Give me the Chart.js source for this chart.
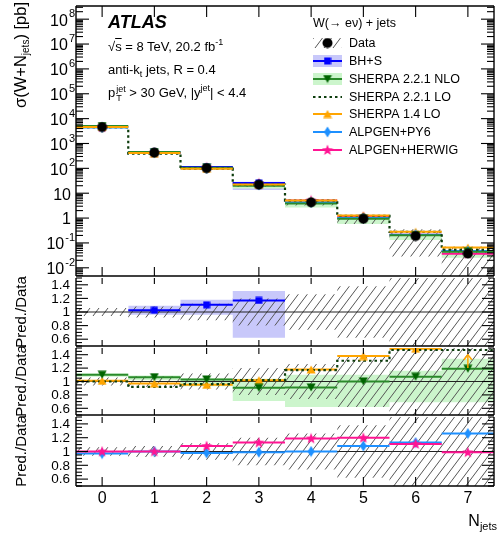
<!DOCTYPE html>
<html>
<head>
<meta charset="utf-8">
<title>W+jets multiplicity</title>
<script src="https://cdn.jsdelivr.net/npm/chart.js@4/dist/chart.umd.min.js"></script>
<style>
  html, body { margin: 0; padding: 0; background: #fff; }
  body { position: relative; width: 497px; height: 538px; overflow: hidden; font-family: "Liberation Sans", Arial, sans-serif; color: #000; }
  canvas { position: absolute; left: 0; }
  .txt { position: absolute; white-space: nowrap; font-size: 13px; line-height: 14px; }
  .txt sup, .txt sub { font-size: 9px; line-height: 0; }
  .txt sup { vertical-align: 6px; }
  .txt sub { vertical-align: -3px; }
  .ss { display: inline-flex; flex-direction: column; font-size: 9px; line-height: 9px; vertical-align: 5px; margin-left: 1px; }
  .ytitle { position: absolute; white-space: nowrap; transform: rotate(-90deg); transform-origin: 50% 50%; font-size: 15px; line-height: 18px; }
  .ytitle sub { font-size: 10px; vertical-align: -3px; line-height: 0; }
</style>
</head>
<body>
<canvas id="cMain" width="500" height="282" style="top:0"></canvas>
<canvas id="cR1" width="500" height="80" style="top:272px"></canvas>
<canvas id="cR2" width="500" height="79" style="top:342px"></canvas>
<canvas id="cR3" width="500" height="127" style="top:411px"></canvas>

<div class="txt" style="left:108px;top:13px;font:italic bold 18px 'Liberation Sans';line-height:18px">ATLAS</div>
<div class="txt" style="left:108px;top:40px">√<span style="text-decoration:overline">s</span> = 8 TeV, 20.2 fb<sup>-1</sup></div>
<div class="txt" style="left:108px;top:63px">anti-k<sub>t</sub> jets, R = 0.4</div>
<div class="txt" style="left:108px;top:85px">p<span class="ss"><span>jet</span><span>T</span></span> &gt; 30 GeV, |y<sup>jet</sup>| &lt; 4.4</div>

<div class="ytitle" style="left:-80px;top:93px;width:200px;text-align:right;font-size:16.5px">σ(W+N<sub>jets</sub>) [pb]</div>
<div class="ytitle" style="left:-39px;top:303px;width:120px;text-align:center">Pred./Data</div>
<div class="ytitle" style="left:-39px;top:372px;width:120px;text-align:center">Pred./Data</div>
<div class="ytitle" style="left:-39px;top:442px;width:120px;text-align:center">Pred./Data</div>
<div class="txt" style="right:0;top:513px;font-size:16px;line-height:16px">N<sub style="font-size:11px;vertical-align:-4px">jets</sub></div>

<script>
// ---- data ----
const nJets = [0, 1, 2, 3, 4, 5, 6, 7];
const xTickLabels = ['0', '1', '2', '3', '4', '5', '6', '7'];
const mainYExponents = [-2, -1, 0, 1, 2, 3, 4, 5, 6, 7, 8];
const ratioTicks = [0.6, 0.8, 1, 1.2, 1.4];
const ratioTickLabels = ['0.6', '0.8', '1', '1.2', '1.4'];
const seriesNames = ['Data', 'BH+S', 'SHERPA 2.2.1 NLO', 'SHERPA 2.2.1 LO', 'SHERPA 1.4 LO', 'ALPGEN+PY6', 'ALPGEN+HERWIG'];
const legendTitle = 'W(\u2192 e\u03bd) + jets';

// cross sections [pb]
const dataXs   = [4570, 425, 102, 22, 4.3, 0.93, 0.19, 0.037];
const dataErr  = [0.06, 0.08, 0.12, 0.2, 0.26, 0.38, 0.85, 0.95];   // relative
const bhsXs    = [null, 436, 113, 25.7, null, null, null, null];
const bhsXsLo  = [null, 407, 98, 13.6, null, null, null, null];
const bhsXsHi  = [null, 464, 120, 28.8, null, null, null, null];
const nloXs    = [5030, 453, 105, 19.9, 3.9, 0.93, 0.203, 0.044];
const nloXsLo  = [4890, 433, 95, 15.6, 2.67, 0.577, 0.131, 0.0255];
const nloXsHi  = [5120, 463, 107, 22.9, 4.73, 1.02, 0.22, 0.0496];
const lo221Xs  = [4570, 391, 98, 22.4, 5.0, 1.22, 0.28, 0.054];
const she14Xs  = [4620, 412, 97, 22.4, 5.1, 1.28, 0.283, 0.065];
const py6Xs    = [4430, 425, 100, 21.8, 4.3, 1.0, 0.215, 0.047];
const herwigXs = [4570, 425, 110, 24.9, 5.1, 1.12, 0.211, 0.037];

// prediction / data
const bhsRatio    = [null, 1.025, 1.105, 1.17, null, null, null, null];
const bhsRatioLo  = [null, 0.958, 0.96, 0.62, null, null, null, null];
const bhsRatioHi  = [null, 1.092, 1.18, 1.31, null, null, null, null];
const nloRatio    = [1.10, 1.065, 1.03, 0.905, 0.91, 1.0, 1.07, 1.19];
const nloRatioLo  = [1.07, 1.02, 0.93, 0.71, 0.62, 0.62, 0.69, 0.69];
const nloRatioHi  = [1.12, 1.09, 1.05, 1.04, 1.10, 1.10, 1.16, 1.34];
const lo221Ratio  = [1.0, 0.92, 0.96, 1.02, 1.17, 1.31, 1.47, 1.47];
const she14Ratio  = [1.01, 0.97, 0.95, 1.02, 1.18, 1.38, 1.49, 1.75];
const py6Ratio    = [0.97, 1.0, 0.98, 0.99, 1.0, 1.08, 1.13, 1.26];
const herwigRatio = [1.0, 1.0, 1.08, 1.13, 1.19, 1.2, 1.11, 0.99];

// ---- styles ----
const FONT = '"Liberation Sans", Arial, sans-serif';
const cBlue = '#0000ff', cBhsBand = '#c8c8fa';
const cNloLine = '#2a8a2a', cNloMark = '#006400', cNloBand = '#ccf5cc';
const cLo = '#0d3d0d', cOrange = '#ffa500', cPy6 = '#1e90ff', cHerwig = '#ff1493';

function makeHatch(color) {
  const c = document.createElement('canvas'); c.width = 9; c.height = 12;
  const g = c.getContext('2d'); g.strokeStyle = color; g.lineWidth = 1;
  g.beginPath();
  g.moveTo(0, 12); g.lineTo(9, 0);
  g.moveTo(-1, 1.33); g.lineTo(1, -1.33);
  g.moveTo(8, 13.33); g.lineTo(10, 10.67);
  g.stroke();
  return g.createPattern(c, 'repeat');
}
const hatch = makeHatch('#555');

function marker(w, h, draw) {
  const c = document.createElement('canvas'); c.width = w; c.height = h;
  draw(c.getContext('2d'), w, h); return c;
}
const mk = {
  circle: marker(11, 11, g => { g.fillStyle = '#000'; g.beginPath(); g.arc(5.5, 5.5, 5, 0, 2 * Math.PI); g.fill(); }),
  square: marker(8, 8, g => { g.fillStyle = cBlue; g.fillRect(0.5, 0.5, 7, 7); }),
  triDown: marker(10, 9, g => { g.fillStyle = cNloMark; g.beginPath(); g.moveTo(0.5, 0.5); g.lineTo(9.5, 0.5); g.lineTo(5, 8.5); g.fill(); }),
  triUp: marker(10, 9, g => { g.fillStyle = cOrange; g.beginPath(); g.moveTo(0.5, 8.5); g.lineTo(9.5, 8.5); g.lineTo(5, 0.5); g.fill(); }),
  diamond: marker(8, 12, g => { g.fillStyle = cPy6; g.beginPath(); g.moveTo(4, 0.5); g.lineTo(7.5, 6); g.lineTo(4, 11.5); g.lineTo(0.5, 6); g.fill(); }),
  star: marker(12, 12, g => {
    g.fillStyle = cHerwig; g.beginPath();
    for (let k = 0; k < 10; k++) {
      const r = k % 2 ? 2.4 : 5.8, t = -Math.PI / 2 + k * Math.PI / 5;
      g.lineTo(6 + r * Math.cos(t), 6.3 + r * Math.sin(t));
    }
    g.closePath(); g.fill();
  })
};

// ---- dataset builders ----
function steps(vals) {
  const pts = [];
  vals.forEach((v, i) => { if (v != null) pts.push({x: nJets[i] - 0.5, y: v}, {x: nJets[i] + 0.5, y: v}); });
  return pts;
}
function segs(vals) {
  const pts = [];
  vals.forEach((v, i) => { if (v != null) pts.push({x: nJets[i] - 0.5, y: v}, {x: nJets[i] + 0.5, y: v}, {x: nJets[i] + 0.5, y: null}); });
  return pts;
}
function centers(vals) {
  return vals.map((v, i) => v == null ? null : {x: nJets[i], y: v}).filter(Boolean);
}
const clear = 'rgba(0,0,0,0)';
function band(lo, hi, fillStyle, order) {
  return [
    {data: steps(hi), fill: '+1', backgroundColor: fillStyle, borderColor: clear, borderWidth: 0, pointRadius: 0, order},
    {data: steps(lo), fill: false, borderColor: clear, borderWidth: 0, pointRadius: 0, order}
  ];
}
function segLine(vals, color, order, width) {
  return {data: segs(vals), borderColor: color, borderWidth: width || 2, pointRadius: 0, fill: false, spanGaps: false, order};
}
function stepLine(vals, color, order) {
  return {data: steps(vals), borderColor: color, borderWidth: 2.2, borderDash: [2.5, 3], pointRadius: 0, fill: false, order};
}
function marks(vals, img, order) {
  return {data: centers(vals), showLine: false, pointStyle: img, pointRadius: 5, borderColor: clear, backgroundColor: clear, order};
}
function unityLine(order) {
  return {data: [{x: -0.5, y: 1}, {x: 7.5, y: 1}], borderColor: '#222', borderWidth: 1.2, pointRadius: 0, fill: false, order};
}

// ---- frame / ticks / labels drawn in ROOT style ----
function drawLegend(ctx) {
  const x0 = 313, w = 29, xc = 327.5, tx = 349;
  const rowY = [43, 61, 79, 97, 114, 132, 150];
  ctx.font = '12.5px ' + FONT; ctx.fillStyle = '#000';
  ctx.textAlign = 'left'; ctx.textBaseline = 'middle';
  ctx.fillText(legendTitle, x0, 24);
  const hline = (y, color, width, dash) => {
    ctx.save(); ctx.strokeStyle = color; ctx.lineWidth = width; ctx.setLineDash(dash || []);
    ctx.beginPath(); ctx.moveTo(x0, y); ctx.lineTo(x0 + w, y); ctx.stroke(); ctx.restore();
  };
  const img = (c, y) => ctx.drawImage(c, xc - c.width / 2, y - c.height / 2);
  seriesNames.forEach((name, i) => {
    const y = rowY[i];
    if (i === 0) { ctx.fillStyle = hatch; ctx.fillRect(x0, y - 5, w, 10); img(mk.circle, y); }
    if (i === 1) { ctx.fillStyle = cBhsBand; ctx.fillRect(x0, y - 6, w, 12); hline(y, cBlue, 2); img(mk.square, y); }
    if (i === 2) { ctx.fillStyle = cNloBand; ctx.fillRect(x0, y - 6, w, 12); hline(y, cNloLine, 2); img(mk.triDown, y); }
    if (i === 3) { hline(y, cLo, 2.2, [2.5, 3]); }
    if (i === 4) { hline(y, cOrange, 2); img(mk.triUp, y); }
    if (i === 5) { hline(y, cPy6, 2); img(mk.diamond, y); }
    if (i === 6) { hline(y, cHerwig, 2); img(mk.star, y); }
    ctx.fillStyle = '#000'; ctx.fillText(name, tx, y + 0.5);
  });
}

const framePlugin = {
  id: 'frame',
  afterDatasetsDraw(chart, args, o) {
    const {ctx, scales: {x, y}} = chart;
    if (!o.arrows) return;
    ctx.save(); ctx.strokeStyle = o.arrowColor; ctx.fillStyle = o.arrowColor; ctx.lineWidth = 1.5;
    o.arrows.forEach((v, i) => {
      if (v == null || v <= y.max) return;
      const px = x.getPixelForValue(nJets[i]);
      const p0 = y.getPixelForValue(y.max - 0.3), p1 = y.getPixelForValue(y.max - 0.1);
      ctx.beginPath(); ctx.moveTo(px, p0); ctx.lineTo(px, p1); ctx.stroke();
      ctx.beginPath(); ctx.moveTo(px - 4, p1 + 5); ctx.lineTo(px, p1); ctx.lineTo(px + 4, p1 + 5); ctx.stroke();
    });
    ctx.restore();
  },
  afterDraw(chart, args, o) {
    const {ctx, chartArea: a, scales: {x, y}} = chart;
    ctx.save();
    ctx.strokeStyle = '#000'; ctx.lineWidth = 1.4;
    const seg = (x1, y1, x2, y2) => { ctx.beginPath(); ctx.moveTo(x1, y1); ctx.lineTo(x2, y2); ctx.stroke(); };
    // frame; a ratio pad shares its top edge with the pad above
    if (!o.sharedTop) seg(a.left, a.top, a.right, a.top);
    seg(a.left, a.bottom, a.right, a.bottom);
    seg(a.left, a.top, a.left, a.bottom);
    seg(a.right, a.top, a.right, a.bottom);
    ctx.lineWidth = 1.1;
    nJets.forEach(v => {
      const px = x.getPixelForValue(v);
      seg(px, a.top, px, a.top + o.topTick);
      seg(px, a.bottom, px, a.bottom - o.bottomTick);
    });
    ctx.fillStyle = '#000';
    if (o.log) {
      for (let e = -3; e <= 9; e++) {
        for (let m = 1; m < 10; m++) {
          const v = m * Math.pow(10, e);
          if (v < y.min || v > y.max) continue;
          const py = y.getPixelForValue(v), L = m === 1 ? 13 : 7;
          seg(a.left, py, a.left + L, py); seg(a.right, py, a.right - L, py);
        }
      }
      ctx.textBaseline = 'middle'; ctx.textAlign = 'left';
      mainYExponents.forEach(e => {
        const py = y.getPixelForValue(Math.pow(10, e));
        const base = e === 0 ? '1' : '10';
        const exp = (e === 0 || e === 1) ? '' : String(e);
        ctx.font = '16px ' + FONT; const bw = ctx.measureText(base).width;
        ctx.font = '11px ' + FONT; const ew = exp ? ctx.measureText(exp).width + 1 : 0;
        const right = exp ? a.left - 1 : a.left - 5;
        ctx.font = '16px ' + FONT; ctx.fillText(base, right - bw - ew, py + 2);
        if (exp) { ctx.font = '11px ' + FONT; ctx.fillText(exp, right - ew + 1, py - 5); }
      });
    } else {
      for (let k = 10; k <= 30; k++) {
        const v = k / 20;
        if (v < y.min || v > y.max) continue;
        const py = y.getPixelForValue(v), L = k % 4 === 0 ? 12 : 6;
        seg(a.left, py, a.left + L, py); seg(a.right, py, a.right - L, py);
      }
      ctx.font = '13.5px ' + FONT; ctx.textAlign = 'right'; ctx.textBaseline = 'middle';
      ratioTicks.forEach((v, i) => ctx.fillText(ratioTickLabels[i], a.left - 6, y.getPixelForValue(v) + 0.5));
    }
    if (o.xLabels) {
      ctx.font = '16px ' + FONT; ctx.textAlign = 'center'; ctx.textBaseline = 'alphabetic';
      nJets.forEach((v, i) => ctx.fillText(xTickLabels[i], x.getPixelForValue(v), a.bottom + 17));
    }
    if (o.legend) drawLegend(ctx);
    ctx.restore();
  }
};

function makeChart(id, datasets, yScale, pad, frameOpts) {
  return new Chart(document.getElementById(id), {
    type: 'line',
    data: {datasets},
    options: {
      responsive: false,
      animation: false,
      events: [],
      layout: {padding: {left: 76, right: 0, top: pad[0], bottom: pad[1]}},
      scales: {
        x: {type: 'linear', min: -0.5, max: 7.5, display: false},
        y: Object.assign({display: false}, yScale)
      },
      plugins: {legend: {display: false}, tooltip: {enabled: false}, frame: frameOpts}
    },
    plugins: [framePlugin]
  });
}

// main panel
const dataHi = dataXs.map((v, i) => v * (1 + dataErr[i]));
const dataLo = dataXs.map((v, i) => v * (1 - dataErr[i]));
makeChart('cMain', [
  ...band(nloXsLo, nloXsHi, cNloBand, 9),
  ...band(bhsXsLo, bhsXsHi, cBhsBand, 9),
  ...band(dataLo, dataHi, hatch, 7),
  stepLine(lo221Xs, cLo, 4),
  segLine(nloXs, cNloLine, 5),
  segLine(bhsXs, cBlue, 5),
  segLine(py6Xs, cPy6, 5),
  segLine(herwigXs, cHerwig, 5),
  segLine(she14Xs, cOrange, 3),
  marks(nloXs, mk.triDown, 2),
  marks(bhsXs, mk.square, 2),
  marks(py6Xs, mk.diamond, 2),
  marks(she14Xs, mk.triUp, 2),
  marks(herwigXs, mk.star, 2),
  marks(dataXs, mk.circle, 0)
], {type: 'logarithmic', min: Math.pow(10, -2.33), max: Math.pow(10, 8.53)}, [4, 5],
  {log: true, topTick: 11, bottomTick: 9, legend: true});

// ratio panels
const ratioHi = dataErr.map(e => 1 + e);
const ratioLo = dataErr.map(e => 1 - e);
const ratioY = {type: 'linear', min: 0.5, max: 1.5};

makeChart('cR1', [
  ...band(bhsRatioLo, bhsRatioHi, cBhsBand, 9),
  ...band(ratioLo, ratioHi, hatch, 7),
  unityLine(6),
  segLine(bhsRatio, cBlue, 4),
  marks(bhsRatio, mk.square, 1)
], ratioY, [5, 5], {log: false, topTick: 6, bottomTick: 6, sharedTop: true});

makeChart('cR2', [
  ...band(nloRatioLo, nloRatioHi, cNloBand, 9),
  ...band(ratioLo, ratioHi, hatch, 7),
  unityLine(6),
  stepLine(lo221Ratio, cLo, 4),
  segLine(nloRatio, cNloLine, 5),
  segLine(she14Ratio, cOrange, 4),
  marks(nloRatio, mk.triDown, 1),
  marks(she14Ratio, mk.triUp, 1)
], ratioY, [5, 5], {log: false, topTick: 6, bottomTick: 6, sharedTop: true, arrows: she14Ratio, arrowColor: cOrange});

makeChart('cR3', [
  ...band(ratioLo, ratioHi, hatch, 7),
  unityLine(6),
  segLine(py6Ratio, cPy6, 5),
  segLine(herwigRatio, cHerwig, 4),
  marks(py6Ratio, mk.diamond, 2),
  marks(herwigRatio, mk.star, 1)
], ratioY, [5, 52], {log: false, topTick: 6, bottomTick: 9, sharedTop: true, xLabels: true});
</script>
</body>
</html>
